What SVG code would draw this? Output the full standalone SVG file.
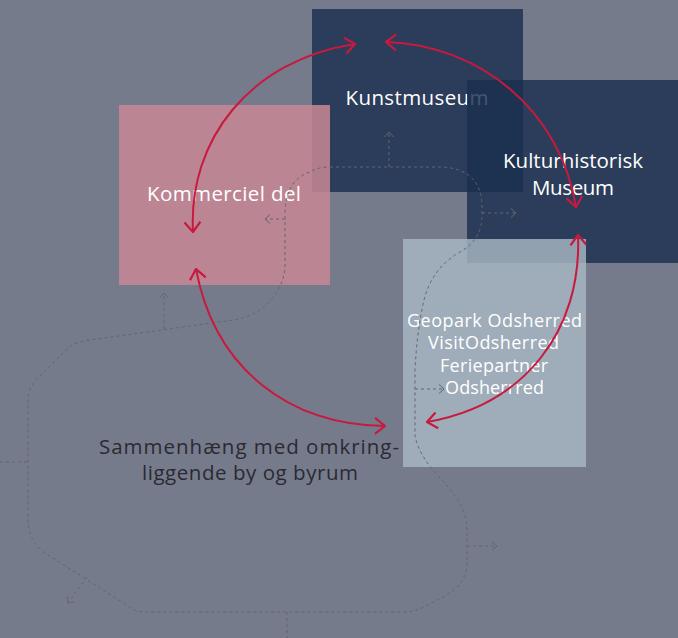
<svg xmlns="http://www.w3.org/2000/svg" width="678" height="638" viewBox="0 0 678 638">
<defs>
<style>
.lbl{font-family:"Open Sans","Noto Sans",sans-serif;fill:#ffffff;text-anchor:middle}
.dark{font-family:"Open Sans","Noto Sans",sans-serif;fill:#2a2a33;text-anchor:middle}
.dash{fill:none;stroke:#62666f;stroke-width:1;stroke-dasharray:3 3}
.red{fill:none;stroke:#c8193f;stroke-width:2}
</style>
<marker id="ah" viewBox="0 0 12 18" refX="11" refY="9" markerWidth="12" markerHeight="18" markerUnits="userSpaceOnUse" orient="auto-start-reverse">
<path d="M1,1 L11,9 L1,17" fill="none" stroke="#c8193f" stroke-width="2.2"/>
</marker>
<marker id="dh" viewBox="0 0 6 10" refX="5.5" refY="5" markerWidth="6" markerHeight="10" markerUnits="userSpaceOnUse" orient="auto">
<path d="M0.5,0.5 L5.5,5 L0.5,9.5" fill="none" stroke="#62666f" stroke-width="1"/>
</marker>
</defs>
<rect width="678" height="638" fill="#767b8b"/>
<g id="kunstmuseum">
<rect x="312" y="9" width="211" height="183" fill="#1a2f4e" opacity="0.815"/>
<text class="lbl" x="417" y="105" font-size="20.5" textLength="143" lengthAdjust="spacing">Kunstmuseum</text>
</g>
<g id="kommerciel">
<rect x="119" y="105" width="211" height="180" fill="#c78794" opacity="0.86"/>
<text class="lbl" x="224" y="201" font-size="20.5" textLength="154" lengthAdjust="spacing">Kommerciel del</text>
</g>
<g id="kulturhistorisk">
<rect x="467" y="80" width="211" height="183" fill="#1a2f4e" opacity="0.815"/>
<text class="lbl" x="573" y="168" font-size="20.5" textLength="140" lengthAdjust="spacing">Kulturhistorisk</text>
<text class="lbl" x="573" y="195" font-size="20.5" textLength="82" lengthAdjust="spacing">Museum</text>
</g>
<g id="geopark">
<rect x="403" y="239" width="183" height="228" fill="#a8b7c3" opacity="0.82"/>
<text class="lbl" x="494.5" y="327" font-size="18" textLength="175" lengthAdjust="spacing">Geopark Odsherred</text>
<text class="lbl" x="493.5" y="349" font-size="18" textLength="131" lengthAdjust="spacing">VisitOdsherred</text>
<text class="lbl" x="494" y="372" font-size="18" textLength="108" lengthAdjust="spacing">Feriepartner</text>
<text class="lbl" x="494.5" y="394" font-size="18" textLength="99" lengthAdjust="spacing">Odsherrred</text>
</g>
<g id="sammenhaeng">
<text class="dark" x="249" y="454" font-size="20.5" textLength="300" lengthAdjust="spacing">Sammenhæng med omkring-</text>
<text class="dark" x="250" y="480" font-size="20.5" textLength="216" lengthAdjust="spacing">liggende by og byrum</text>
</g>
<g id="connectors">
<path class="dash" d="M330,167 L443,167 Q482,170 482,207 L482,215 Q482,240 460,252 Q432,268 424,300 Q417,330 415,370 L415,435 Q418,455 440,478 Q467,505 467,530 L467,565 Q466,585 443,597 L420,609 Q413,612 400,612 L145,612 Q135,612 125,604 L45,553 Q28,540 28,520 L28,400 Q28,388 38,378 L68,348 Q75,342 90,340 L233,320 Q260,316 275,295 Q285,280 285,265 L285,215 Q285,180 310,172 Q318,167 330,167 Z"/>
<path class="dash" d="M164,329 L164,293" marker-end="url(#dh)"/>
<path class="dash" d="M389,167 L389,132" marker-end="url(#dh)"/>
<path class="dash" d="M285,219 L265,219" marker-end="url(#dh)"/>
<path class="dash" d="M482,213 L516,213" marker-end="url(#dh)"/>
<path class="dash" d="M415,389 L444,389" marker-end="url(#dh)"/>
<path class="dash" d="M467,546 L497,546" marker-end="url(#dh)"/>
<path class="dash" d="M87,577 L68,603" marker-end="url(#dh)"/>
<path class="dash" d="M0,462 L28,462"/>
<path class="dash" d="M287,612 L287,640"/>
<path class="red" d="M193,232 C188,140 250,60 355,44" marker-start="url(#ah)" marker-end="url(#ah)"/>
<path class="red" d="M386,42 C480,45 560,110 576,207" marker-start="url(#ah)" marker-end="url(#ah)"/>
<path class="red" d="M578,235 C582,330 525,405 427,422" marker-start="url(#ah)" marker-end="url(#ah)"/>
<path class="red" d="M196,269 C215,370 290,425 385,426" marker-start="url(#ah)" marker-end="url(#ah)"/>
</g>
</svg>
